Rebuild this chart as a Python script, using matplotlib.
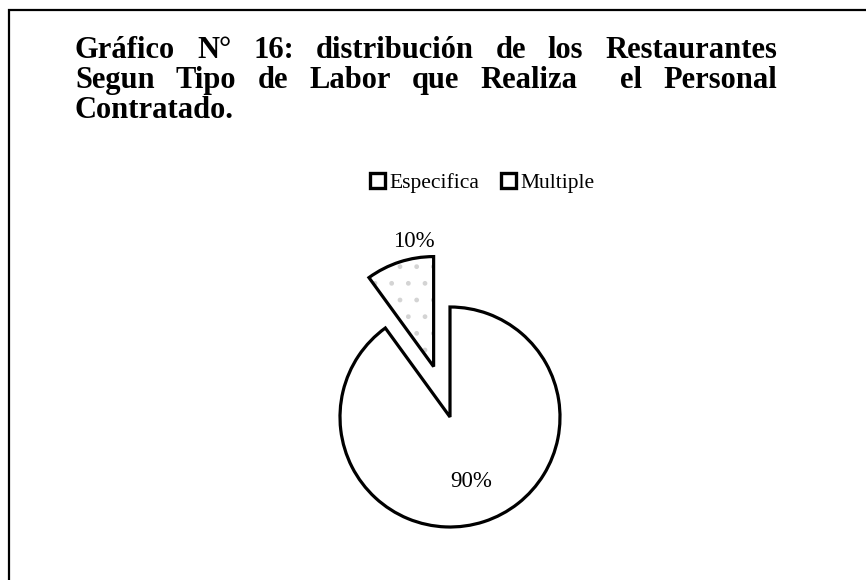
import re
import matplotlib.pyplot as plt
from matplotlib.patches import Patch, Rectangle, Wedge

plt.rcParams['font.family'] = ['Liberation Serif', 'DejaVu Serif']

# datos
categorias = ['Especifica', 'Multiple']
porcentajes = [90, 10]
titulo = ['Gráfico N° 16: distribución de los Restaurantes',
          'Segun Tipo de Labor que Realiza  el Personal',
          'Contratado.']

fig = plt.figure(figsize=(8.66, 5.8), dpi=100)
ax = fig.add_axes([0, 0, 1, 1])
ax.axis('off')

# marco
ax.add_patch(Rectangle((9, -10), 880, 580, fill=False, lw=1.6, ec='black'))

# titulo justificado (como en Word)
renderer = fig.canvas.get_renderer()
x0, x1 = 75, 777
ys = [522, 492, 462]
for i, linea in enumerate(titulo):
    palabras = linea.split()
    espacios = [len(s) for s in re.findall(r' +', linea)]
    txts = [ax.text(0, ys[i], p, fontsize=22, fontweight='bold', va='baseline')
            for p in palabras]
    ax.set_xlim(0, 866)
    ax.set_ylim(0, 580)
    anchos = [t.get_window_extent(renderer).width for t in txts]
    if i < len(titulo) - 1 and espacios:
        por_espacio = (x1 - x0 - sum(anchos)) / sum(espacios)
    else:
        por_espacio = 7
    x = x0
    for j, (t, w) in enumerate(zip(txts, anchos)):
        t.set_x(x)
        if j < len(espacios):
            x += w + por_espacio * espacios[j]

# pie
wedges, textos, pct = ax.pie(porcentajes, startangle=90, counterclock=False,
                             explode=[0, 53], center=(450, 163), radius=110,
                             colors=['white', 'white'], autopct='%1.0f%%',
                             pctdistance=0.62,
                             wedgeprops=dict(edgecolor='black', linewidth=2.3),
                             textprops=dict(fontsize=16.5))
ax.set_aspect('equal')
ax.set_xlim(0, 866)
ax.set_ylim(0, 580)

# relleno punteado del sector pequeño
w = wedges[1]
ax.add_patch(Wedge(w.center, w.r, w.theta1, w.theta2, facecolor='white',
                   edgecolor='#d4d4d4', hatch='. ', lw=0, zorder=0.5))
w.set_facecolor('none')

# etiqueta 10% fuera del sector
pct[1].set_position((w.center[0] - 20, w.center[1] + 1.14 * w.r))

# leyenda
handles = [Patch(facecolor='white', edgecolor='black', linewidth=2.4)
           for _ in categorias]
fig.legend(handles, categorias, loc='center', bbox_to_anchor=(482 / 866, 397 / 580),
           ncol=2, frameon=False, fontsize=15.5, handlelength=0.7,
           handleheight=0.7, handletextpad=0.2, columnspacing=1.0)

fig.savefig('out.png', dpi=100)
